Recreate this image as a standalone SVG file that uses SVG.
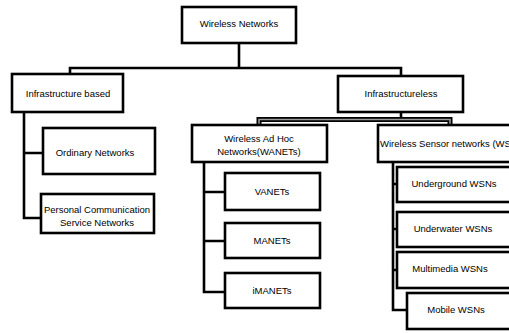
<svg xmlns="http://www.w3.org/2000/svg" width="509" height="333" viewBox="0 0 509 333">
<style>
.box{fill:#fff;stroke:#000;stroke-width:2.6}
.ln{fill:none;stroke:#000;stroke-width:2.6}
text{font-family:"Liberation Sans",Arial,sans-serif;font-size:9.5px;fill:#000;text-anchor:middle}
</style>
<rect width="509" height="333" fill="#fff"/>
<g id="connectors">
<path class="ln" d="M239 43V68M70 74V68H401V76"/>
<path class="ln" d="M24 112V218H41M24 153H43"/>
<path class="ln" d="M401 112V118"/>
<path d="M259 125V119.5H450V125" fill="none" stroke="#000" stroke-width="5"/>
<path d="M259 124V119.5H450V124" fill="none" stroke="#999" stroke-width="1.6"/>
<path class="ln" d="M204 162V292H225M204 192H225M204 241H225"/>
<path class="ln" d="M393 162V310H407M393 184H397M393 229H397M393 270H397"/>
</g>
<g id="wireless-networks"><rect class="box" x="182" y="7" width="114" height="36"/><text x="239" y="27">Wireless Networks</text></g>
<g id="infra-based"><rect class="box" x="12" y="74" width="111" height="38"/><text x="68" y="97">Infrastructure based</text></g>
<g id="infraless"><rect class="box" x="338" y="76" width="125" height="36"/><text x="401" y="97">Infrastructureless</text></g>
<g id="ordinary"><rect class="box" x="43" y="128" width="112" height="46"/><text x="95" y="156">Ordinary Networks</text></g>
<g id="pcsn"><rect class="box" x="41" y="194" width="113" height="39"/><text x="97" y="213">Personal Communication</text><text x="97" y="226">Service Networks</text></g>
<g id="wanet"><rect class="box" x="192" y="125" width="135" height="37"/><text x="259" y="142">Wireless Ad Hoc</text><text x="259" y="155">Networks(WANETs)</text></g>
<g id="wsn"><rect class="box" x="378" y="125" width="145" height="37"/><text x="380" y="147" style="text-anchor:start">Wireless Sensor networks (WSNs)</text></g>
<g id="vanets"><rect class="box" x="225" y="173" width="95" height="37"/><text x="272" y="195">VANETs</text></g>
<g id="manets"><rect class="box" x="225" y="223" width="95" height="35"/><text x="272" y="244">MANETs</text></g>
<g id="imanets"><rect class="box" x="225" y="273" width="95" height="35"/><text x="272" y="294">iMANETs</text></g>
<g id="underground"><rect class="box" x="397" y="167" width="125" height="35"/><text x="454" y="187">Underground WSNs</text></g>
<g id="underwater"><rect class="box" x="397" y="212" width="125" height="35"/><text x="453" y="232">Underwater WSNs</text></g>
<g id="multimedia"><rect class="box" x="397" y="252" width="125" height="36"/><text x="450" y="272">Multimedia WSNs</text></g>
<g id="mobile"><rect class="box" x="407" y="293" width="115" height="36"/><text x="456" y="313">Mobile WSNs</text></g>
</svg>
